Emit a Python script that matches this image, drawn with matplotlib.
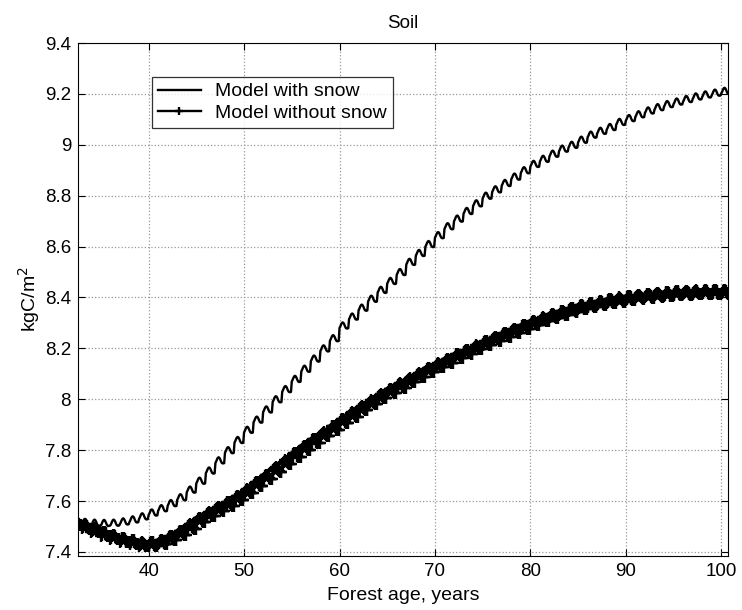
import matplotlib
matplotlib.use('Agg')
import matplotlib.pyplot as plt
import numpy as np

# Forest age (years), one level per model year
years = np.arange(32, 101)

# Yearly soil carbon level, model with snow (kgC/m2)
with_snow = [
    7.520, 7.518, 7.515, 7.514, 7.515, 7.520, 7.528, 7.540, 7.555, 7.572,
    7.592, 7.615, 7.645, 7.680, 7.720, 7.760, 7.800, 7.840, 7.880, 7.920,
    7.960, 8.000, 8.040, 8.080, 8.120, 8.160, 8.200, 8.240, 8.290, 8.325,
    8.360, 8.395, 8.430, 8.465, 8.500, 8.540, 8.575, 8.610, 8.645, 8.680,
    8.710, 8.740, 8.770, 8.800, 8.825, 8.850, 8.875, 8.900, 8.925, 8.945,
    8.965, 8.985, 9.000, 9.020, 9.040, 9.055, 9.070, 9.090, 9.105, 9.120,
    9.135, 9.148, 9.160, 9.170, 9.180, 9.190, 9.198, 9.205, 9.212,
]

# Yearly soil carbon level, model without snow (kgC/m2)
without_snow = [
    7.515, 7.500, 7.485, 7.470, 7.458, 7.447, 7.438, 7.430, 7.432, 7.440,
    7.455, 7.475, 7.500, 7.525, 7.548, 7.570, 7.590, 7.612, 7.638, 7.666,
    7.695, 7.724, 7.752, 7.780, 7.808, 7.836, 7.862, 7.888, 7.914, 7.940,
    7.964, 7.988, 8.011, 8.033, 8.054, 8.074, 8.094, 8.114, 8.133, 8.151,
    8.169, 8.187, 8.204, 8.221, 8.238, 8.254, 8.270, 8.285, 8.300, 8.314,
    8.327, 8.340, 8.352, 8.362, 8.371, 8.379, 8.386, 8.392, 8.398, 8.403,
    8.407, 8.411, 8.414, 8.417, 8.419, 8.420, 8.421, 8.422, 8.422,
]

# Monthly offsets from the yearly level (seasonal wiggle)
months = np.arange(12)
season_with = [-0.010, -0.004, 0.004, 0.010, 0.012, 0.010,
               0.004, -0.004, -0.010, -0.012, -0.012, -0.011]
season_without = [-0.007, -0.003, 0.003, 0.007, 0.008, 0.007,
                  0.003, -0.003, -0.007, -0.008, -0.008, -0.008]

t = (years[:, None] + months[None, :] / 12.0).ravel()
y1 = (np.array(with_snow)[:, None] + np.array(season_with)[None, :]).ravel()
y2 = (np.array(without_snow)[:, None] + np.array(season_without)[None, :]).ravel()

plt.rcParams['font.family'] = ['Liberation Sans', 'DejaVu Sans']

fig = plt.figure(figsize=(7.42, 6.10), dpi=100)
ax = fig.add_axes([0.1051, 0.0885, 0.876, 0.841])

ax.plot(t, y1, color='black', lw=1.7, label='Model with snow')
ax.plot(t, y2, color='black', lw=1.7, marker='+', markersize=8, mew=1.7,
        label='Model without snow')

ax.set_xlim(32.6, 100.7)
ax.set_ylim(7.384, 9.4)
ax.set_xticks([40, 50, 60, 70, 80, 90, 100])
ax.set_yticks(np.arange(7.4, 9.41, 0.2))
ax.set_yticklabels(['7.4', '7.6', '7.8', '8', '8.2', '8.4', '8.6', '8.8', '9', '9.2', '9.4'])

ax.grid(True, linestyle=':', color='0.6', lw=0.9)
ax.tick_params(direction='in', top=True, right=True, length=5, width=0.8,
               labelsize=13.5, pad=5)
for s in ax.spines.values():
    s.set_linewidth(0.8)

ax.set_title('Soil', fontsize=13.5, pad=11)
ax.set_xlabel('Forest age, years', fontsize=14, labelpad=5)
ax.set_ylabel('kgC/m$^2$', fontsize=14, labelpad=2)

leg = ax.legend(loc='upper left', bbox_to_anchor=(0.114, 0.934), fontsize=14,
                frameon=True, fancybox=False, edgecolor='black',
                handlelength=2.2, borderpad=0.3, labelspacing=0.2,
                handletextpad=0.75, borderaxespad=0, markerscale=0.8)
leg.get_frame().set_linewidth(0.9)

fig.savefig('out.png', dpi=100)
